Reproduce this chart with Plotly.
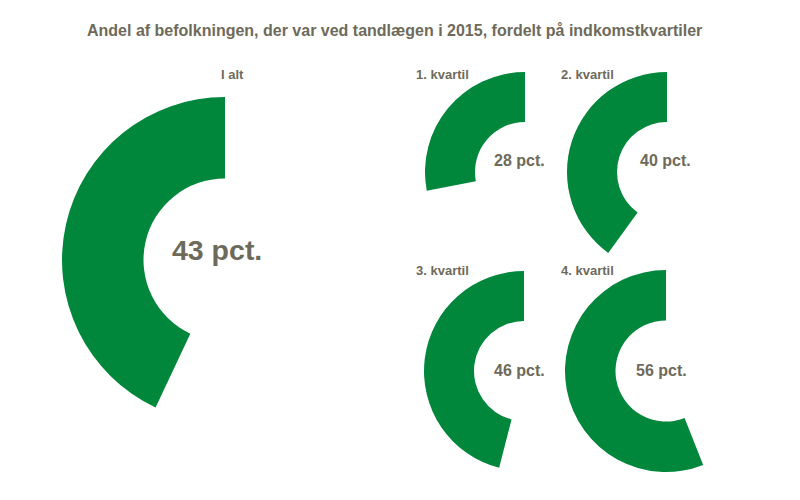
import plotly.graph_objects as go

# data
groups = ["I alt", "1. kvartil", "2. kvartil", "3. kvartil", "4. kvartil"]
shares = [43, 28, 40, 46, 56]

title = "Andel af befolkningen, der var ved tandlægen i 2015, fordelt på indkomstkvartiler"

GREEN = "#00873c"
TEXT = "#6e6a5b"
FONT = "Liberation Sans, Arial"
W, H = 800, 500
OFF = 8  # page body margin


def px(x, y):
    return (x - OFF) / W, 1 - (y - OFF) / H


# donut centre (px), radius (px), label pos, value text pos, value font size
layout_spec = [
    dict(cx=225, cy=260, r=163, lx=232, ly=74, vx=217, vy=250, vs=28.5),
    dict(cx=525, cy=172, r=100, lx=443, ly=74, vx=519, vy=160, vs=16),
    dict(cx=667, cy=172, r=100, lx=587, ly=74, vx=665, vy=160, vs=16),
    dict(cx=524, cy=371, r=100, lx=443, ly=270, vx=519, vy=370, vs=16),
    dict(cx=666, cy=371, r=101, lx=587, ly=270, vx=661, vy=370, vs=16),
]

fig = go.Figure()
annotations = []

for name, pct, s in zip(groups, shares, layout_spec):
    x0, y1 = px(s["cx"] - s["r"], s["cy"] - s["r"])
    x1, y0 = px(s["cx"] + s["r"], s["cy"] + s["r"])
    # empty part first so the green arc ends at 12 o'clock -> runs to the left
    fig.add_trace(go.Pie(
        values=[100 - pct, pct],
        labels=["rest", name],
        marker=dict(colors=["rgba(0,0,0,0)", GREEN], line=dict(width=0)),
        hole=0.5,
        sort=False,
        direction="clockwise",
        rotation=0,
        textinfo="none",
        hoverinfo="skip",
        showlegend=False,
        domain=dict(x=[x0, x1], y=[y0, y1]),
    ))
    lx, ly = px(s["lx"], s["ly"])
    annotations.append(dict(
        text=f"<b>{name}</b>", x=lx, y=ly,
        xref="paper", yref="paper", showarrow=False,
        xanchor="center", yanchor="middle",
        font=dict(size=13, color=TEXT, family=FONT),
    ))
    vx, vy = px(s["vx"], s["vy"])
    annotations.append(dict(
        text=f"<b>{pct} pct.</b>", x=vx, y=vy,
        xref="paper", yref="paper", showarrow=False,
        xanchor="center", yanchor="middle",
        font=dict(size=s["vs"], color=TEXT, family=FONT),
    ))

tx, ty = px(394, 30)
annotations.append(dict(
    text=f"<b>{title}</b>", x=tx, y=ty,
    xref="paper", yref="paper", showarrow=False,
    xanchor="center", yanchor="middle",
    font=dict(size=16, color=TEXT, family=FONT),
))

fig.update_layout(
    width=W, height=H,
    margin=dict(l=0, r=0, t=0, b=0),
    paper_bgcolor="white",
    plot_bgcolor="white",
    annotations=annotations,
)

fig.write_html("out.html")
